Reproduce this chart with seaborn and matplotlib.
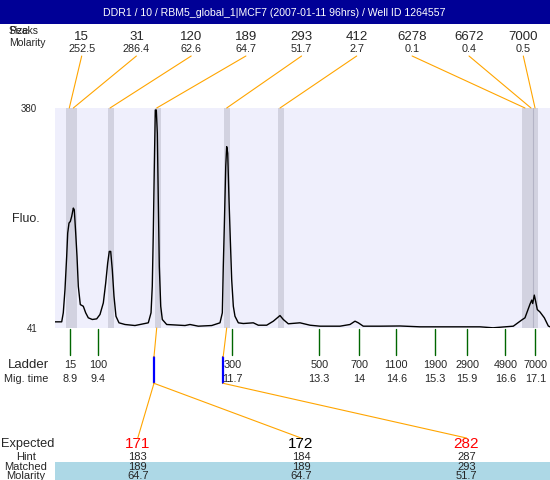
import matplotlib
matplotlib.use("Agg")
import matplotlib.pyplot as plt
import seaborn as sns
import pandas as pd
from matplotlib.patches import ConnectionPatch, Rectangle
from matplotlib.transforms import blended_transform_factory

# ---------------- data ----------------
title = "DDR1 / 10 / RBM5_global_1|MCF7 (2007-01-11 96hrs) / Well ID 1264557"

trace_time = [8.632, 8.750, 8.778, 8.808, 8.838, 8.856, 8.879, 8.902, 8.926, 8.955,
              8.972, 8.997, 9.020, 9.043, 9.078, 9.131, 9.173, 9.219, 9.290, 9.367,
              9.425, 9.484, 9.526, 9.561, 9.589, 9.614, 9.642, 9.672, 9.707, 9.760,
              9.866, 10.042, 10.277, 10.325, 10.347, 10.365, 10.383, 10.400, 10.418, 10.436,
              10.453, 10.471, 10.496, 10.524, 10.601, 10.924, 11.012, 11.158, 11.395, 11.541,
              11.582, 11.599, 11.617, 11.642, 11.659, 11.677, 11.700, 11.723, 11.747, 11.776,
              11.805, 11.864, 11.952, 12.128, 12.216, 12.364, 12.481, 12.599, 12.657, 12.745,
              12.951, 13.128, 13.304, 13.657, 13.833, 13.921, 13.979, 14.067, 14.362, 14.715,
              15.067, 16.125, 16.354, 16.425, 16.712, 16.860, 16.918, 17.007, 17.037, 17.054,
              17.082, 17.107, 17.135, 17.183, 17.259, 17.329, 17.359]
trace_fluo = [50.5, 50.5, 64.4, 100.2, 151.4, 187.3, 202.7, 205.2, 212.8, 225.8,
              223.1, 187.3, 151.4, 105.2, 77.1, 74.5, 64.4, 56.7, 54.1, 55.1,
              61.8, 79.7, 110.5, 141.2, 159.0, 159.0, 130.9, 89.9, 59.1, 49.0,
              46.4, 44.8, 49.0, 64.4, 105.2, 187.3, 289.7, 376.9, 376.9, 341.0,
              238.5, 136.0, 74.5, 54.1, 46.4, 44.8, 46.4, 43.8, 44.8, 49.0,
              64.4, 136.0, 197.5, 289.7, 320.4, 310.3, 238.5, 177.0, 115.5, 74.5,
              59.1, 49.0, 47.9, 49.0, 45.3, 45.3, 51.5, 60.2, 54.1, 47.5,
              49.0, 45.3, 43.8, 43.8, 46.4, 51.5, 49.0, 43.8, 43.8, 44.1,
              42.8, 42.8, 41.3, 41.8, 43.8, 53.3, 56.7, 77.9, 84.0, 78.7,
              91.7, 81.7, 69.4, 65.6, 56.7, 44.1, 42.8]

peak_size = ["15", "31", "120", "189", "293", "412", "6278", "6672", "7000"]
peak_molarity = ["252.5", "286.4", "62.6", "64.7", "51.7", "2.7", "0.1", "0.4", "0.5"]
peak_time = [8.884, 8.955, 9.602, 10.425, 11.659, 12.599, 16.918, 17.024, 17.095]

band_start = [8.826, 9.566, 10.395, 11.612, 12.564, 16.866]
band_end = [9.015, 9.667, 10.496, 11.717, 12.664, 17.143]
band_line = [17.065]

ladder_size = ["15", "100", "300", "500", "700", "1100", "1900", "2900", "4900", "7000"]
ladder_time_label = ["8.9", "9.4", "11.7", "13.3", "14", "14.6", "15.3", "15.9", "16.6", "17.1"]
ladder_time = [8.900, 9.394, 11.756, 13.290, 13.995, 14.651, 15.337, 15.899, 16.573, 17.100]

expected = ["171", "172", "282"]
expected_color = ["#ff0000", "#000000", "#ff0000"]
hint = ["183", "184", "287"]
matched = ["189", "189", "293"]
matched_molarity = ["64.7", "64.7", "51.7"]
marker_time = [10.377, 11.597]
marker_peak = [3, 4]          # index into peak arrays
expected_marker = [0, 0, 1]   # index into marker arrays

y_min, y_max = 41, 380
t_min, t_max = 8.632, 17.359

# ---------------- layout (pixel space of a 550x480 canvas) ----------------
W, H = 550, 480
size_label_x = [81.7, 136.4, 191.2, 245.9, 301.6, 356.7, 412.1, 469.0, 523.3]
expected_x = [137.8, 301.0, 466.5]

sns.set_style("white")
plt.rcParams["font.family"] = ["Liberation Sans", "DejaVu Sans"]

fig = plt.figure(figsize=(5.5, 4.8), dpi=100)
ax = fig.add_axes([55 / W, 1 - 328 / H, 495 / W, 220 / H])
ov = fig.add_axes([0, 0, 1, 1], zorder=5)
ov.set_xlim(0, W)
ov.set_ylim(H, 0)
ov.axis("off")
ov.patch.set_visible(False)

# main electropherogram
ax.set_facecolor("#efeffc")
for s, e in zip(band_start, band_end):
    ax.axvspan(s, e, color="#d2d2e0", lw=0, zorder=1)
for b in band_line:
    ax.axvline(b, color="#b4b4c6", lw=0.8, zorder=1)
df = pd.DataFrame({"time": trace_time, "fluo": trace_fluo})
sns.lineplot(data=df, x="time", y="fluo", ax=ax, color="black", lw=1.0, zorder=3)
ax.set_xlim(t_min, t_max)
ax.set_ylim(y_min, y_max)
ax.set_xticks([])
ax.set_yticks([])
ax.set_xlabel("")
ax.set_ylabel("")
for sp in ax.spines.values():
    sp.set_visible(False)

# title bar
ov.add_patch(Rectangle((0, 0), W, 24, color="#000096", lw=0, zorder=0))
ov.text(274, 12.5, title, color="white", ha="center", va="center", fontsize=7.6)

# top peak table
ov.text(9, 31, "Peaks", ha="left", va="center", fontsize=7.5)
ov.text(9, 31, "Size", ha="left", va="center", fontsize=7.5)
ov.text(27, 43.5, "Molarity", ha="center", va="center", fontsize=7.5)
for i in range(len(peak_size)):
    ov.text(size_label_x[i], 36.5, peak_size[i], ha="center", va="center", fontsize=9.5)
    ov.text(size_label_x[i], 49.5, peak_molarity[i], ha="center", va="center", fontsize=7.8)
    con = ConnectionPatch(xyA=(size_label_x[i], 56), coordsA=ov.transData,
                          xyB=(peak_time[i], y_max), coordsB=ax.transData,
                          color="#ffa500", lw=0.8, zorder=6)
    fig.add_artist(con)

# y labels
ov.text(37, 109, "380", ha="right", va="center", fontsize=7)
ov.text(38, 329, "41", ha="right", va="center", fontsize=7)
ov.text(26, 219, "Fluo.", ha="center", va="center", fontsize=9)

# ladder
bt = blended_transform_factory(ax.transData, ov.transData)
for i in range(len(ladder_size)):
    ov.plot([ladder_time[i], ladder_time[i]], [329, 355], color="#006600", lw=1.0,
            transform=bt, clip_on=False)
    ov.text(ladder_time[i], 365, ladder_size[i], ha="center", va="center",
            fontsize=7.8, transform=bt)
    ov.text(ladder_time[i], 379.5, ladder_time_label[i], ha="center", va="center",
            fontsize=7.8, transform=bt)
ov.text(28, 365, "Ladder", ha="center", va="center", fontsize=9.5)
ov.text(26, 379.5, "Mig. time", ha="center", va="center", fontsize=7.8)

# blue markers and connectors
for j in range(len(marker_time)):
    ov.plot([marker_time[j], marker_time[j]], [356.7, 383.3], color="#0000ff", lw=1.6,
            transform=bt, clip_on=False, zorder=7)
    con = ConnectionPatch(xyA=(peak_time[marker_peak[j]], y_min), coordsA=ax.transData,
                          xyB=(marker_time[j], 356.7), coordsB=bt,
                          color="#ffa500", lw=0.8, zorder=6)
    fig.add_artist(con)
for i in range(len(expected)):
    m = expected_marker[i]
    con = ConnectionPatch(xyA=(marker_time[m], 383.3), coordsA=bt,
                          xyB=(expected_x[i], 438), coordsB=ov.transData,
                          color="#ffa500", lw=0.8, zorder=6)
    fig.add_artist(con)

# bottom table
ov.add_patch(Rectangle((55, 462), W - 55, 18, color="#add8e6", lw=0, zorder=0))
ov.text(27.5, 444.5, "Expected", ha="center", va="center", fontsize=9.2)
ov.text(26, 456.8, "Hint", ha="center", va="center", fontsize=8)
ov.text(26, 467.4, "Matched", ha="center", va="center", fontsize=8)
ov.text(26, 476.3, "Molarity", ha="center", va="center", fontsize=8)
for i in range(len(expected)):
    ov.text(expected_x[i], 444.5, expected[i], color=expected_color[i],
            ha="center", va="center", fontsize=11)
    ov.text(expected_x[i], 456.8, hint[i], ha="center", va="center", fontsize=8)
    ov.text(expected_x[i], 467.4, matched[i], ha="center", va="center", fontsize=8)
    ov.text(expected_x[i], 476.3, matched_molarity[i], ha="center", va="center", fontsize=8)

fig.savefig("out.png", dpi=100)
